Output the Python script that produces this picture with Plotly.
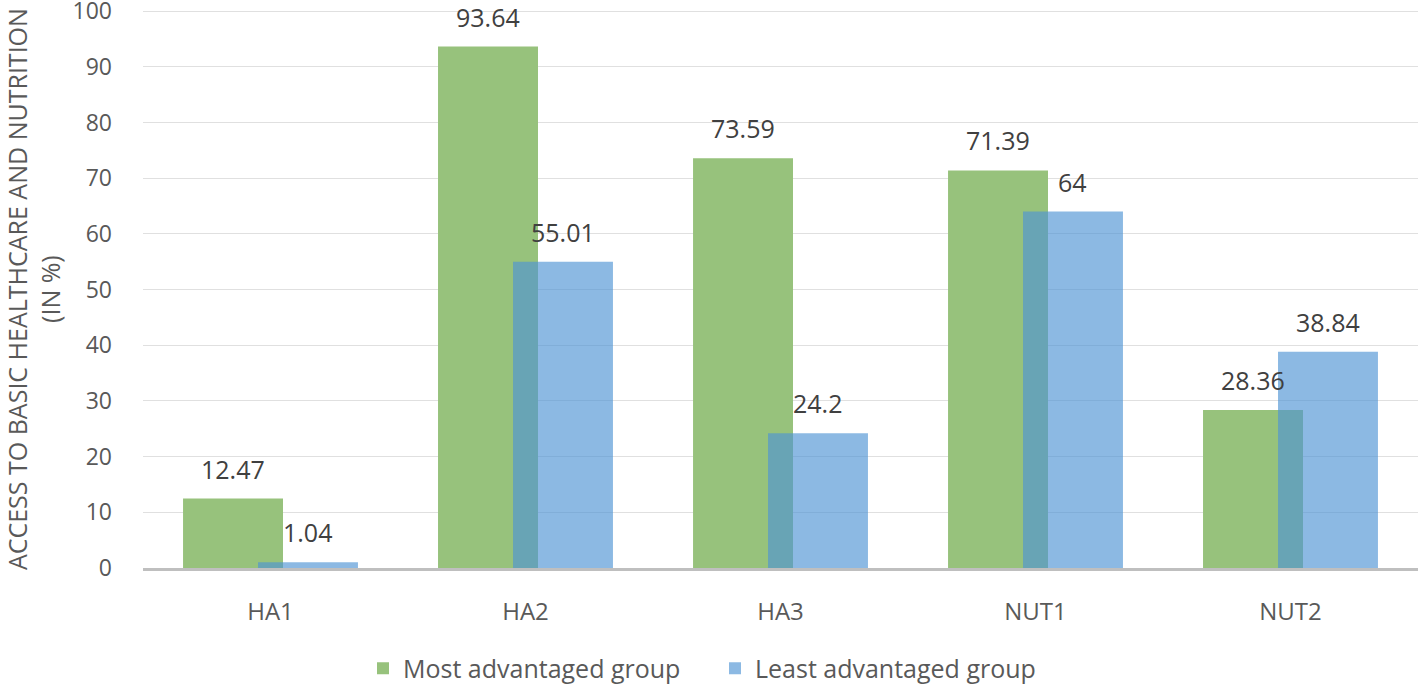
import plotly.graph_objects as go

categories = ["HA1", "HA2", "HA3", "NUT1", "NUT2"]
most_adv = [12.47, 93.64, 73.59, 71.39, 28.36]
least_adv = [1.04, 55.01, 24.2, 64, 38.84]
series_names = ["Most advantaged group", "Least advantaged group"]
y_ticks = [0, 10, 20, 30, 40, 50, 60, 70, 80, 90, 100]
y_title = "ACCESS TO BASIC HEALTHCARE AND NUTRITION<br>(IN %)"

FONT = "Open Sans"
TXT = "#404040"
AX = "#595959"
GREEN = "rgb(151,194,124)"
BLUE = "rgba(78,148,212,0.65)"
W = 0.392
SHIFT = 0.147

fig = go.Figure()
fig.add_trace(go.Bar(x=categories, y=most_adv, name=series_names[0],
                     marker=dict(color=GREEN, line=dict(width=0)),
                     width=W, offset=-SHIFT - W / 2))
fig.add_trace(go.Bar(x=categories, y=least_adv, name=series_names[1],
                     marker=dict(color=BLUE, line=dict(width=0)),
                     width=W, offset=SHIFT - W / 2))

ann = []
for off, vals in ((-SHIFT, most_adv), (SHIFT, least_adv)):
    for i, v in enumerate(vals):
        ann.append(dict(x=i + off, y=v, text=f"{v:g}", showarrow=False,
                        yanchor="bottom", yshift=11,
                        font=dict(size=25, color=TXT, family=FONT)))
ann.append(dict(xref="paper", yref="paper", x=-0.0862, y=0.5, xanchor="center",
                yanchor="middle", text=y_title, textangle=-90, showarrow=False,
                font=dict(size=25, color=AX, family=FONT)))

fig.update_layout(
    width=1418, height=684,
    barmode="overlay",
    plot_bgcolor="white", paper_bgcolor="white",
    margin=dict(l=143, r=0, t=10, b=116, autoexpand=False),
    font=dict(family=FONT, size=20, color=AX),
    annotations=ann,
    showlegend=True,
    legend=dict(orientation="h", xref="container", x=363 / 1418, xanchor="left",
                y=-0.18, yanchor="middle", entrywidth=307, entrywidthmode="pixels",
                font=dict(size=25, color=AX), traceorder="normal"),
    xaxis=dict(type="category", showline=True, linecolor="#bfbfbf", linewidth=3,
               showgrid=False, ticks="", ticklabelstandoff=20, automargin=False,
               tickfont=dict(size=24, color=AX),
               range=[-0.5, 4.5]),
    yaxis=dict(range=[0, 100.2], tickvals=y_ticks, showgrid=True, gridcolor="#e0e0e0",
               gridwidth=1, zeroline=False, showline=False, ticks="",
               ticklabelstandoff=30, automargin=False, ticklabeloverflow="allow",
               tickfont=dict(size=23, color=AX)),
)

fig.write_html("out.html", config={"displayModeBar": False},
               post_script="document.body.style.margin='0px';document.body.style.overflow='hidden';")
